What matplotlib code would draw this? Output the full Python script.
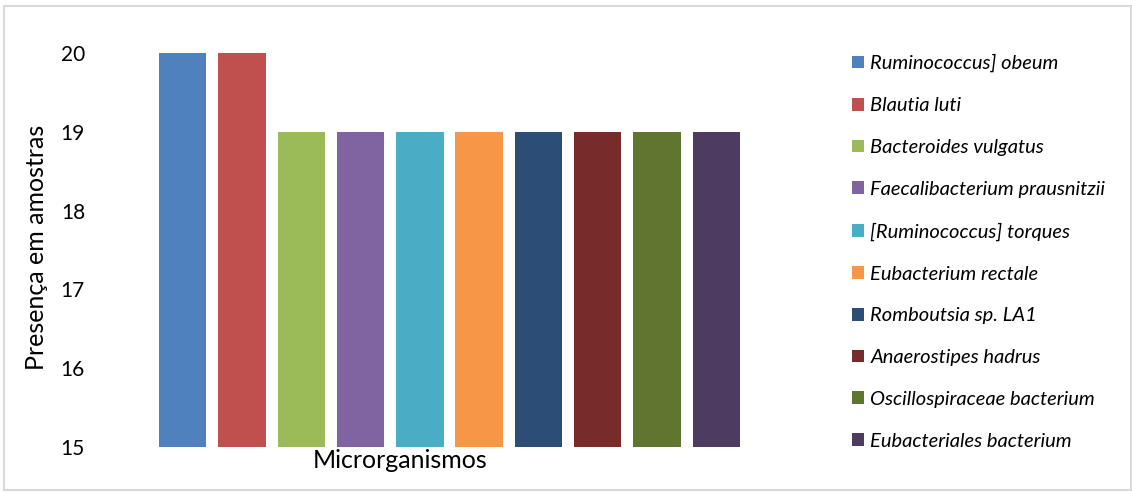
import matplotlib.pyplot as plt
from matplotlib.patches import Rectangle, Patch

plt.rcParams['font.family'] = ['Lato', 'DejaVu Sans']

# microrganismos e número de amostras em que aparecem
microrganismos = ['Ruminococcus] obeum', 'Blautia luti', 'Bacteroides vulgatus',
                  'Faecalibacterium prausnitzii', '[Ruminococcus] torques',
                  'Eubacterium rectale', 'Romboutsia sp. LA1', 'Anaerostipes hadrus',
                  'Oscillospiraceae bacterium', 'Eubacteriales bacterium']
presenca = [20, 20, 19, 19, 19, 19, 19, 19, 19, 19]
cores = ['#4F81BD', '#C0504D', '#9BBB59', '#8064A2', '#4BACC6',
         '#F79646', '#2C4D75', '#772C2A', '#5F7530', '#4D3B62']
yticks = [15, 16, 17, 18, 19, 20]

fig = plt.figure(figsize=(11.32, 4.92), dpi=100)
ax = fig.add_axes([153 / 1132, 1 - 447 / 492, (746 - 153) / 1132, (447 - 53) / 492])

x = range(len(presenca))
ax.bar(x, presenca, width=0.8, color=cores)
ax.set_xlim(-0.5, len(presenca) - 0.5)
ax.set_ylim(15, 20)
ax.set_yticks(yticks)
ax.set_xticks([])
ax.tick_params(axis='y', length=0, pad=49, labelsize=15)
for s in ax.spines.values():
    s.set_visible(False)

fig.text(37 / 1132, 1 - 247 / 492, 'Presença em amostras', rotation=90,
         ha='center', va='center', fontsize=18)
fig.text(400 / 1132, 1 - 460 / 492, 'Microrganismos', ha='center', va='center',
         fontsize=18)

handles = [Patch(facecolor=c, edgecolor='none') for c in cores]
leg = fig.legend(handles, microrganismos, loc='upper left',
                 bbox_to_anchor=(836 / 1132, 1 - 38 / 492), frameon=False,
                 prop={'style': 'italic', 'size': 14.5}, labelspacing=1.23,
                 handlelength=0.6, handleheight=0.6, handletextpad=0.3,
                 borderpad=0.3)

# moldura cinza em volta da figura
fig.patches.append(Rectangle((4 / 1132, 2 / 492), 1 - 5 / 1132, 1 - 8 / 492,
                             transform=fig.transFigure, fill=False,
                             edgecolor='#D9D9D9', linewidth=1.5))

fig.savefig('out.png', dpi=100)
